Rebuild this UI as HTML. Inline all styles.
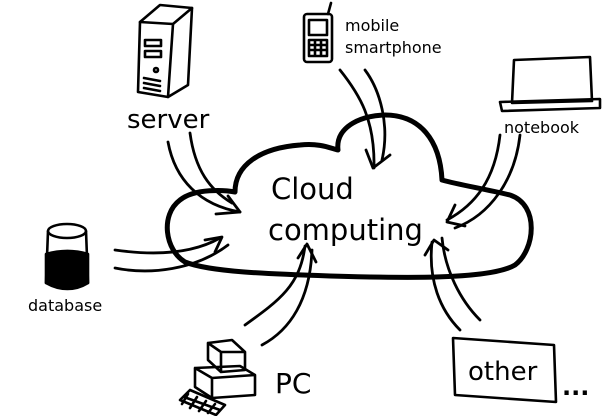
<html><head><style>body{margin:0;background:#fff}svg{display:block}text{font-family:"DejaVu Sans","Liberation Sans",sans-serif;fill:#000}</style></head><body>
<svg width="605" height="416" viewBox="0 0 605 416" fill="none" stroke="#000" stroke-linecap="round" stroke-linejoin="round">
<path d="M185,262 C165,250 160,215 180,200 C195,188 225,190 235,192 C235,165 260,148 300,145 C320,143 330,148 338,150 C335,125 365,115 385,115 C420,115 440,140 442,180 C460,185 480,188 510,195 C540,205 535,250 515,265 C490,280 400,278 330,276 C270,274 210,272 185,262 Z" stroke-width="5"/>
<g stroke-width="2.8">
<path d="M168,142 C175,180 200,205 240,212"/><path d="M190,133 C195,170 210,190 232,203"/>
<path d="M216,214 L240,212 L228,196"/>
<path d="M340,70 C360,95 375,120 374,168"/><path d="M365,70 C380,90 390,125 382,160"/>
<path d="M366,150 L373,168 L390,155"/>
<path d="M500,135 C495,180 475,205 447,220"/><path d="M520,135 C515,180 490,215 455,228"/>
<path d="M455,205 L447,222 L465,226"/>
<path d="M115,250 C150,255 190,255 220,238"/><path d="M115,268 C150,275 195,270 228,245"/>
<path d="M205,240 L222,237 L215,252"/>
<path d="M245,325 C280,300 300,285 305,246"/><path d="M262,345 C290,330 310,300 312,250"/>
<path d="M298,258 L307,244 L316,262"/>
<path d="M460,330 C440,310 428,280 432,242"/><path d="M480,320 C460,300 445,270 442,238"/>
<path d="M425,255 L434,240 L448,250"/>
</g>
<g stroke-width="2.6">
<path d="M140,22 L160,5 L192,8 L188,85 L168,97 L138,92 Z"/><path d="M140,22 L173,24 L168,97"/><path d="M173,24 L192,8"/>
<rect x="145" y="40" width="16" height="6"/><rect x="145" y="51" width="16" height="6"/><circle cx="156" cy="70" r="2"/>
<path d="M144,78 L160,81 M144,83 L160,86 M144,88 L160,91"/>
<rect x="304" y="14" width="28" height="48" rx="3"/><path d="M328,14 L331,3"/><rect x="309" y="20" width="18" height="15"/>
<path d="M309,40 h18 v16 h-18 z M315,40 v16 M321,40 v16 M309,45 h18 M309,50 h18"/>
<path d="M514,60 L590,57 L592,101 L512,103 Z"/><path d="M500,102 L600,99 L600,108 L502,111 Z"/>
<ellipse cx="67" cy="231" rx="19" ry="7"/><path d="M48,231 L46,283 M86,231 L88,283"/>
<path d="M46,254 C60,250 75,250 88,254 L88,283 C75,291 60,291 46,283 Z" fill="#000"/>
<path d="M208,343 L232,340 L245,352 L245,370 L221,372 L208,360 Z M221,372 L221,352 L208,343 M221,352 L245,352"/>
<path d="M195,368 L240,366 L255,375 L255,395 L212,398 L195,387 Z M212,398 L212,378 L195,368 M212,378 L255,375"/>
<path d="M190,390 L225,405 L216,415 L180,400 Z M188,394 L182,404 M197,397 L190,408 M206,401 L199,411 M215,404 L208,413 M184,397 L220,410"/>
<path d="M453,338 L554,345 L556,402 L455,395 Z"/>
</g>
<text x="127" y="128" font-size="26" stroke="none">server</text>
<text x="345" y="31" font-size="16" stroke="none">mobile</text>
<text x="345" y="53" font-size="16" stroke="none">smartphone</text>
<text x="504" y="133" font-size="16" stroke="none">notebook</text>
<text x="271" y="199" font-size="29" stroke="none">Cloud</text>
<text x="268" y="240" font-size="29" stroke="none">computing</text>
<text x="28" y="311" font-size="16" stroke="none">database</text>
<text x="275" y="393" font-size="28" stroke="none">PC</text>
<text x="468" y="380" font-size="26" stroke="none">other</text>
<text x="562" y="395" font-size="24" font-weight="bold" stroke="none">...</text>
</svg>
</body></html>
